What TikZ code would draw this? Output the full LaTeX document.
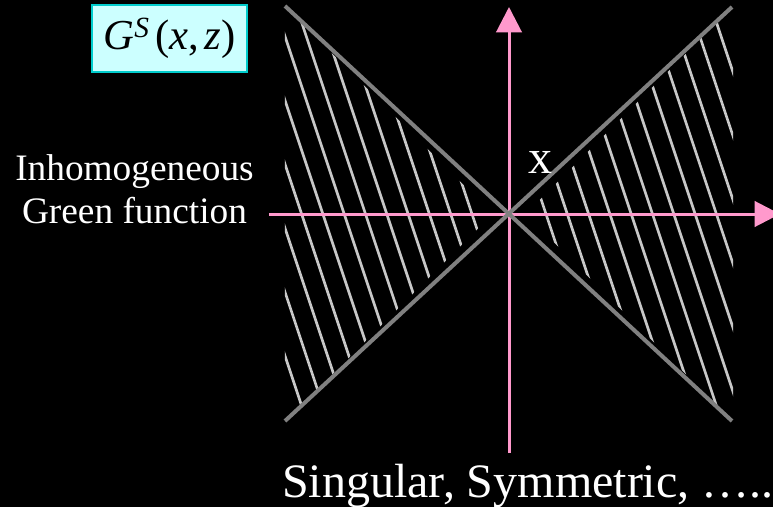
\documentclass[tikz,border=0pt]{standalone}
\usepackage{fontspec}
\setmainfont{Liberation Serif}
\usepackage{tikz}
\usetikzlibrary{arrows.meta,positioning}
\definecolor{gfpink}{RGB}{255,153,204}
\definecolor{gfgrey}{RGB}{128,128,128}
\definecolor{gfhatch}{RGB}{200,200,200}
\definecolor{gfbox}{RGB}{204,255,255}
\definecolor{gfboxline}{RGB}{0,204,204}

\begin{document}
\begin{tikzpicture}[
    x=0.75pt, y=0.75pt,
    axis/.style={gfpink, line width=2.25pt,
                 -{Triangle[length=19pt, width=19pt]}},
    cone/.style={gfgrey, line width=3pt},
    hatch/.style={gfhatch, line width=2pt},
    gftext/.style={text=white, inner sep=0pt},
    gfbig/.style={gftext, font=\fontsize{36}{40}\selectfont},
    eqbox/.style={rectangle, draw=gfboxline, fill=gfbox, line width=1.5pt,
                  minimum width=116pt, minimum height=50pt, inner sep=0pt,
                  font=\fontsize{32}{36}\selectfont},
  ]
  % Background
  \fill[black] (-509,-293) rectangle (264,214);
  \useasboundingbox (-509,-293) rectangle (264,214);
  \clip (-509,-293) rectangle (264,214);

  % Hatching, left and right
  \begin{scope}
    \clip (-224,207.5) -- (-16.5,0) -- (-224,-207.5) -- cycle;
    \foreach \j in {0,...,11}
      \draw[hatch] ({-117-21.3*\j},240) -- ++(160,-480);
  \end{scope}
  \begin{scope}
    \clip (224,207.5) -- (16.5,0) -- (224,-207.5) -- cycle;
    \foreach \j in {0,...,11}
      \draw[hatch] ({-43+21.3*\j},240) -- ++(160,-480);
  \end{scope}

  % Axes
  \coordinate (O) at (0,0);
  \coordinate (xl) at (-240,0);
  \coordinate (xr) at (271,0);
  \coordinate (zb) at (0,-239);
  \coordinate (zt) at (0,207);
  \draw[axis] (xl) -- (xr);
  \draw[axis] (zb) -- (zt);

  % Cone
  \coordinate (ctl) at (-224,208);
  \coordinate (cbr) at (223,-207);
  \coordinate (cbl) at (-224,-207);
  \coordinate (ctr) at (223,207);
  \draw[cone] (ctl) -- (cbr);
  \draw[cone] (cbl) -- (ctr);

  % Labels
  \node[eqbox] (gs) at (-339.5,175.7)
    {\textit{G}\raisebox{8.5pt}{\fontsize{22}{22}\selectfont\itshape S}\hspace{5pt}(\textit{x},\hspace{4pt}\textit{z})};
  \node[gftext, align=center, font=\fontsize{28}{32.25}\selectfont]
    (inh) at (-374.5,25) {Inhomogeneous\\Green function};
  \node[gfbig, anchor=base west] (xlab) at (19,40.7) {x};
  \node[gfbig, anchor=base west] (sing) at (-227,-283)
    {Singular, Symmetric, …..};
\end{tikzpicture}
\end{document}
